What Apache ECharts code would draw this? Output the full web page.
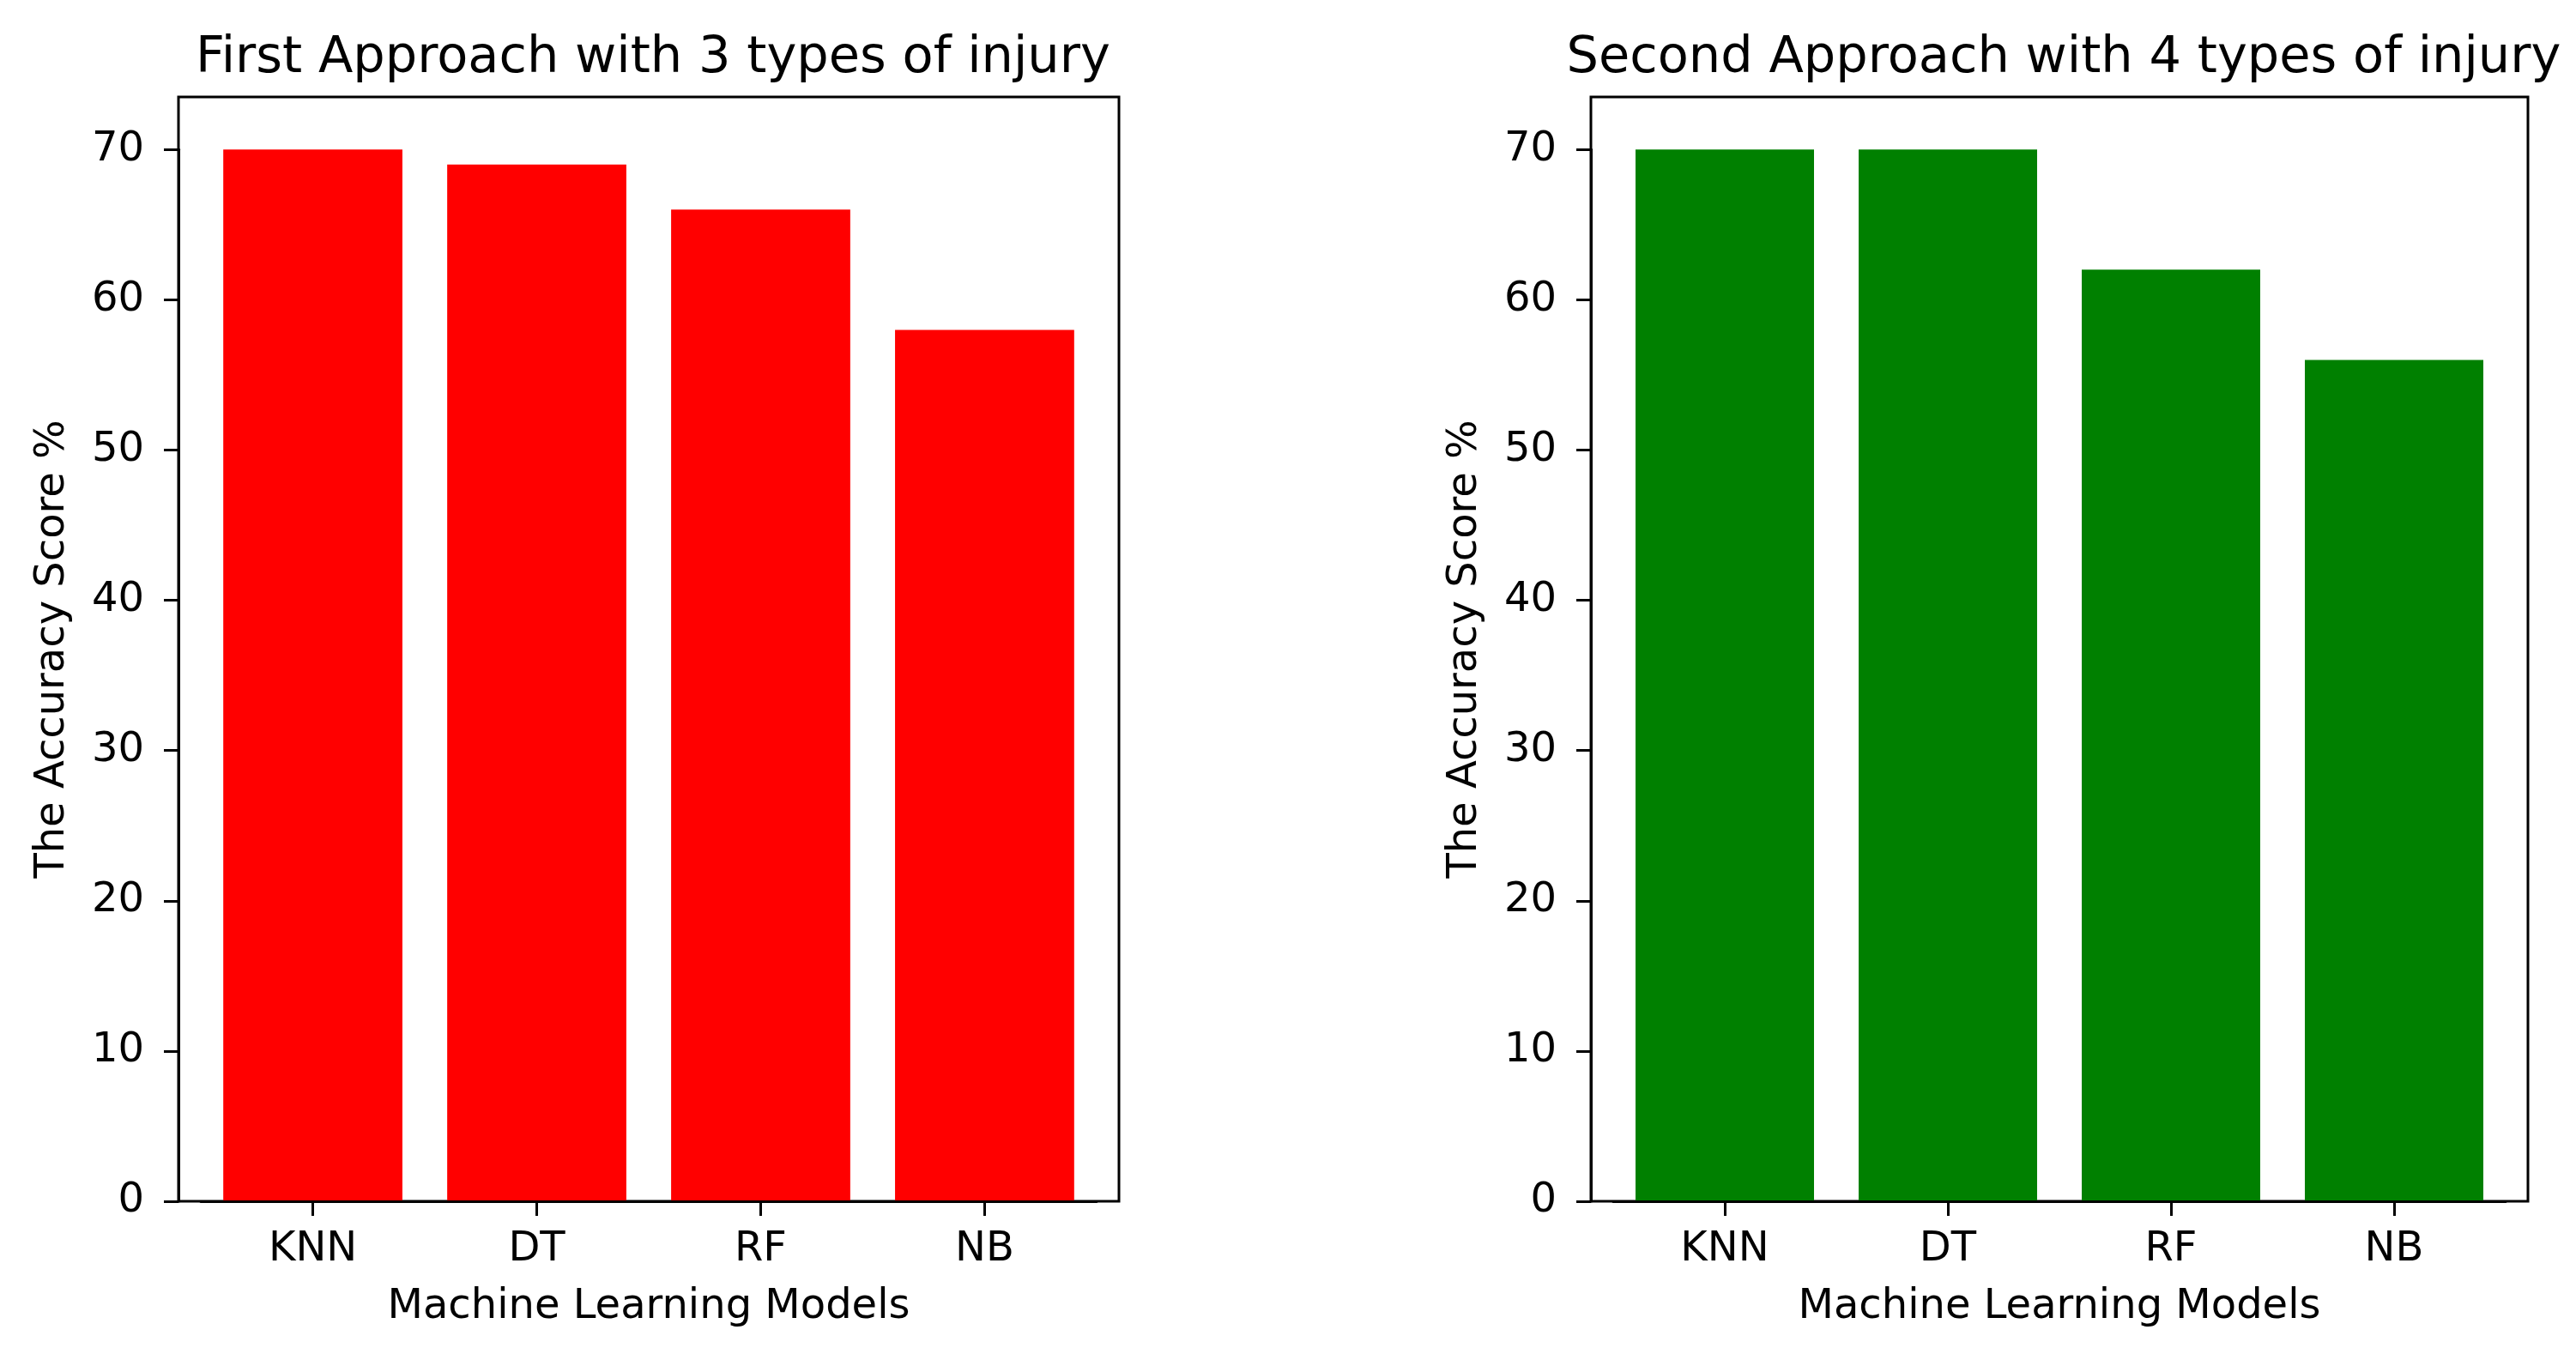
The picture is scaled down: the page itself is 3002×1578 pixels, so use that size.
<!DOCTYPE html>
<html>
<head>
<meta charset="utf-8">
<script src="https://cdn.jsdelivr.net/npm/echarts@6/dist/echarts.min.js"></script>
<style>
html,body{margin:0;padding:0;background:#fff;}
#chart{width:3002px;height:1578px;}
</style>
</head>
<body>
<div id="chart"></div>
<script>
// ---- data ----
const categories = ['KNN', 'DT', 'RF', 'NB'];
const firstApproach = [70, 69, 66, 58];
const secondApproach = [70, 70, 62, 56];
const titles = ['First Approach with 3 types of injury', 'Second Approach with 4 types of injury'];
const barColors = ['#ff0000', '#008000'];
const xAxisTitle = 'Machine Learning Models';
const yAxisTitle = 'The Accuracy Score %';
const yTickMax = 70;
const yTickStep = 10;

// ---- layout (matplotlib-like axes) ----
const plotTop = 113, plotBottom = 1400;
const panels = [{ l: 208, r: 1304 }, { l: 1854, r: 2946 }];
const yLimTop = 73.5;          // axis upper limit (data)
const xLim = [-0.6, 3.6];      // axis limits in category units
const FONT = 'DejaVu Sans';
const seriesList = [firstApproach, secondApproach];

const grids = [], xAxes = [], yAxes = [], series = [], title = [];
panels.forEach((p, i) => {
  const w = p.r - p.l;
  const h = plotBottom - plotTop;
  const unit = w / (xLim[1] - xLim[0]);
  const pxPerVal = h / yLimTop;
  const dataLeft = p.l + (-0.5 - xLim[0]) * unit;
  const dataWidth = categories.length * unit;
  const dataTop = plotBottom - yTickMax * pxPerVal;
  const dataHeight = yTickMax * pxPerVal;
  const off = dataLeft - p.l;

  // frame grid (full axes box)
  grids.push({ left: p.l, top: plotTop, width: w, height: h, show: true,
    borderColor: '#000', borderWidth: 3, backgroundColor: 'transparent', z: 0 });
  const fi = grids.length - 1;
  xAxes.push({ gridIndex: fi, type: 'value', show: false, min: 0, max: 1 });
  yAxes.push({ gridIndex: fi, type: 'value', show: true, min: 0, max: 1,
    axisLine: { show: false }, axisTick: { show: false }, axisLabel: { show: false },
    splitLine: { show: false },
    name: yAxisTitle, nameLocation: 'middle', nameGap: 122, nameRotate: 90,
    nameTextStyle: { fontSize: 48, color: '#000', fontFamily: FONT } });

  // data grid
  grids.push({ left: dataLeft, top: dataTop, width: dataWidth, height: dataHeight, show: false });
  const di = grids.length - 1;
  xAxes.push({
    gridIndex: di, type: 'category', data: categories, boundaryGap: true, z: 5,
    axisLine: { show: true, lineStyle: { color: '#000', width: 3 } },
    axisTick: { show: true, alignWithLabel: true, length: 17, lineStyle: { color: '#000', width: 3 } },
    axisLabel: { fontSize: 48, color: '#000', fontFamily: FONT, margin: 33 },
    splitLine: { show: false },
    name: xAxisTitle, nameLocation: 'middle', nameGap: 100,
    nameTextStyle: { fontSize: 48, color: '#000', fontFamily: FONT }
  });
  yAxes.push({
    gridIndex: di, type: 'value', min: 0, max: yTickMax, interval: yTickStep, offset: off, z: 5,
    axisLine: { show: true, lineStyle: { color: '#000', width: 3 } },
    axisTick: { show: true, length: 17, lineStyle: { color: '#000', width: 3 } },
    axisLabel: { fontSize: 48, color: '#000', fontFamily: FONT, margin: 40 },
    splitLine: { show: false }
  });
  series.push({
    type: 'bar', xAxisIndex: xAxes.length - 1, yAxisIndex: yAxes.length - 1,
    data: seriesList[i], barWidth: '80%', itemStyle: { color: barColors[i] },
    animation: false, z: 2
  });
  title.push({
    text: titles[i], left: (p.l + p.r) / 2, top: 34, textAlign: 'center',
    textStyle: { fontSize: 59, fontWeight: 'normal', color: '#000', fontFamily: FONT }
  });
});

const chart = echarts.init(document.getElementById('chart'), null, { renderer: 'canvas' });
chart.setOption({
  backgroundColor: '#fff',
  animation: false,
  title: title,
  grid: grids,
  xAxis: xAxes,
  yAxis: yAxes,
  series: series
});
</script>
</body>
</html>
